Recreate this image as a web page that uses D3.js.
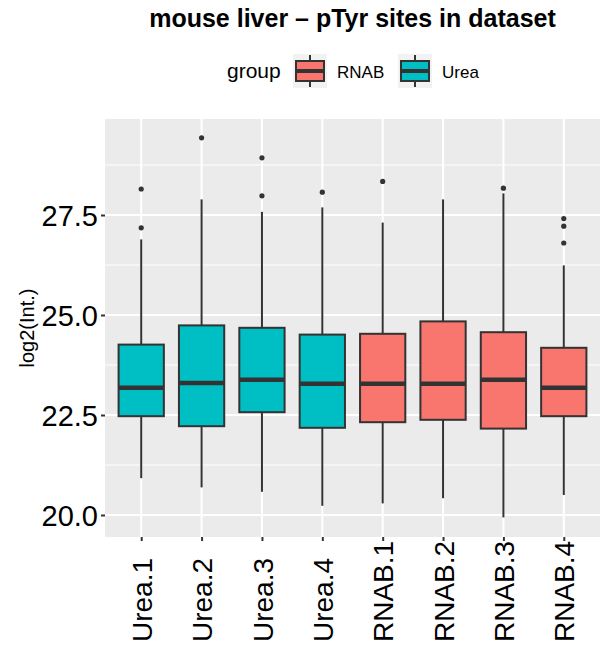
<!DOCTYPE html>
<html>
<head>
<meta charset="utf-8">
<script src="https://cdn.jsdelivr.net/npm/d3@7"></script>
<style>
  body { margin: 0; background: #fff; }
  svg text { font-family: "Liberation Sans", Arial, Helvetica, sans-serif; fill: #000; }
</style>
</head>
<body>
<div id="chart"></div>
<script>
// samples in plotting order
const samples = ["Urea.1", "Urea.2", "Urea.3", "Urea.4", "RNAB.1", "RNAB.2", "RNAB.3", "RNAB.4"];
const groups  = ["Urea", "Urea", "Urea", "Urea", "RNAB", "RNAB", "RNAB", "RNAB"];

// box statistics (log2 intensity)
const whiskerLow  = [20.92, 20.69, 20.58, 20.23, 20.29, 20.42, 19.94, 20.50];
const q1          = [22.47, 22.22, 22.57, 22.18, 22.32, 22.38, 22.16, 22.47];
const medians     = [23.18, 23.30, 23.38, 23.28, 23.28, 23.28, 23.38, 23.18];
const q3          = [24.26, 24.74, 24.68, 24.51, 24.53, 24.84, 24.57, 24.18];
const whiskerHigh = [26.89, 27.89, 27.58, 27.69, 27.31, 27.89, 28.04, 26.24];
const outliers    = [[27.18, 28.15], [29.43], [27.98, 28.93], [28.07], [28.34], [], [28.17], [26.80, 27.22, 27.41]];

const legendGroups = ["RNAB", "Urea"];
const yTicks = [20.0, 22.5, 25.0, 27.5];
const yMinor = [21.25, 23.75, 26.25, 28.75];

const color = d3.scaleOrdinal().domain(["RNAB", "Urea"]).range(["#F8766D", "#00BFC4"]);

const W = 600, H = 650;
const panel = { left: 105, right: 600, top: 119, bottom: 537 };

const svg = d3.select('#chart').append('svg')
    .attr('width', W)
    .attr('height', H);

// scales
const x = d3.scaleLinear()
    .domain([0.4, samples.length + 0.6])
    .range([panel.left, panel.right]);
const step = x(2) - x(1);

const y = d3.scaleLinear()
    .domain([20, 27.5])
    .range([515, 215]);

// panel background + grid
svg.append('rect')
    .attr('x', panel.left).attr('y', panel.top)
    .attr('width', panel.right - panel.left)
    .attr('height', panel.bottom - panel.top)
    .attr('fill', '#EBEBEB');

svg.append('g').selectAll('line')
    .data(yMinor)
    .enter().append('line')
      .attr('x1', panel.left).attr('x2', panel.right)
      .attr('y1', d => y(d)).attr('y2', d => y(d))
      .attr('stroke', '#fff').attr('stroke-width', 1.1);

svg.append('g').selectAll('line')
    .data(yTicks)
    .enter().append('line')
      .attr('x1', panel.left).attr('x2', panel.right)
      .attr('y1', d => y(d)).attr('y2', d => y(d))
      .attr('stroke', '#fff').attr('stroke-width', 2.1);

svg.append('g').selectAll('line')
    .data(samples)
    .enter().append('line')
      .attr('x1', (d, i) => x(i + 1)).attr('x2', (d, i) => x(i + 1))
      .attr('y1', panel.top).attr('y2', panel.bottom)
      .attr('stroke', '#fff').attr('stroke-width', 2.1);

// Y-axis
const yAxis = svg.append('g')
    .attr('transform', `translate(${panel.left},0)`)
    .call(d3.axisLeft(y).tickValues(yTicks).tickFormat(d3.format('.1f')).tickSize(4).tickPadding(3));
yAxis.select('.domain').remove();
yAxis.selectAll('line').attr('stroke', '#333').attr('stroke-width', 2);
yAxis.selectAll('text')
    .attr('font-size', 29)
    .attr('fill', '#000')
    .attr('dy', '0.36em');

// X-axis
const xAxis = svg.append('g')
    .attr('transform', `translate(0,${panel.bottom})`)
    .call(d3.axisBottom(x).tickValues(d3.range(1, samples.length + 1)).tickFormat(i => samples[i - 1]).tickSize(4));
xAxis.select('.domain').remove();
xAxis.selectAll('line').attr('stroke', '#333').attr('stroke-width', 2);
xAxis.selectAll('text')
    .attr('font-size', 28)
    .attr('fill', '#000')
    .attr('y', 0).attr('dy', '0.36em')
    .attr('text-anchor', 'start')
    .attr('transform', 'translate(0,105) rotate(-90)');

// Y-axis title
svg.append('text')
    .attr('transform', `translate(34,${(panel.top + panel.bottom) / 2}) rotate(-90)`)
    .attr('text-anchor', 'middle')
    .attr('font-size', 20)
    .text('log2(Int.)');

// boxes
const boxW = step * 0.75;
const boxes = svg.append('g').selectAll('g')
    .data(samples)
    .enter().append('g')
      .attr('transform', (d, i) => `translate(${x(i + 1)},0)`);

boxes.append('line')
    .attr('y1', (d, i) => y(whiskerHigh[i])).attr('y2', (d, i) => y(q3[i]))
    .attr('stroke', '#333').attr('stroke-width', 2);
boxes.append('line')
    .attr('y1', (d, i) => y(q1[i])).attr('y2', (d, i) => y(whiskerLow[i]))
    .attr('stroke', '#333').attr('stroke-width', 2);
boxes.append('rect')
    .attr('x', -boxW / 2).attr('width', boxW)
    .attr('y', (d, i) => y(q3[i]))
    .attr('height', (d, i) => y(q1[i]) - y(q3[i]))
    .attr('fill', (d, i) => color(groups[i]))
    .attr('stroke', '#333').attr('stroke-width', 2);
boxes.append('line')
    .attr('x1', -boxW / 2).attr('x2', boxW / 2)
    .attr('y1', (d, i) => y(medians[i])).attr('y2', (d, i) => y(medians[i]))
    .attr('stroke', '#333').attr('stroke-width', 4.5);
boxes.selectAll('circle')
    .data((d, i) => outliers[i])
    .enter().append('circle')
      .attr('cy', d => y(d))
      .attr('r', 2.6)
      .attr('fill', '#333');

// title
svg.append('text')
    .attr('x', (panel.left + panel.right) / 2)
    .attr('y', 27)
    .attr('text-anchor', 'middle')
    .attr('font-size', 25)
    .attr('font-weight', 'bold')
    .text('mouse liver \u2013 pTyr sites in dataset');

// legend
const legend = svg.append('g');
legend.append('text')
    .attr('x', 227).attr('y', 78)
    .attr('font-size', 21)
    .text('group');

const keyX = [293, 398];
const keys = legend.selectAll('g.key')
    .data(legendGroups)
    .enter().append('g')
      .attr('class', 'key')
      .attr('transform', (d, i) => `translate(${keyX[i]},54)`);
keys.append('rect')
    .attr('width', 34).attr('height', 34)
    .attr('fill', '#F2F2F2');
keys.append('line')
    .attr('x1', 17).attr('x2', 17).attr('y1', 1).attr('y2', 33)
    .attr('stroke', '#333').attr('stroke-width', 2);
keys.append('rect')
    .attr('x', 3).attr('y', 7).attr('width', 28).attr('height', 20)
    .attr('fill', d => color(d))
    .attr('stroke', '#333').attr('stroke-width', 2);
keys.append('line')
    .attr('x1', 3).attr('x2', 31).attr('y1', 17).attr('y2', 17)
    .attr('stroke', '#333').attr('stroke-width', 4);
keys.append('text')
    .attr('x', 44).attr('y', 77.5)
    .attr('transform', 'translate(0,-54)')
    .attr('font-size', 17)
    .text(d => d);
</script>
</body>
</html>
